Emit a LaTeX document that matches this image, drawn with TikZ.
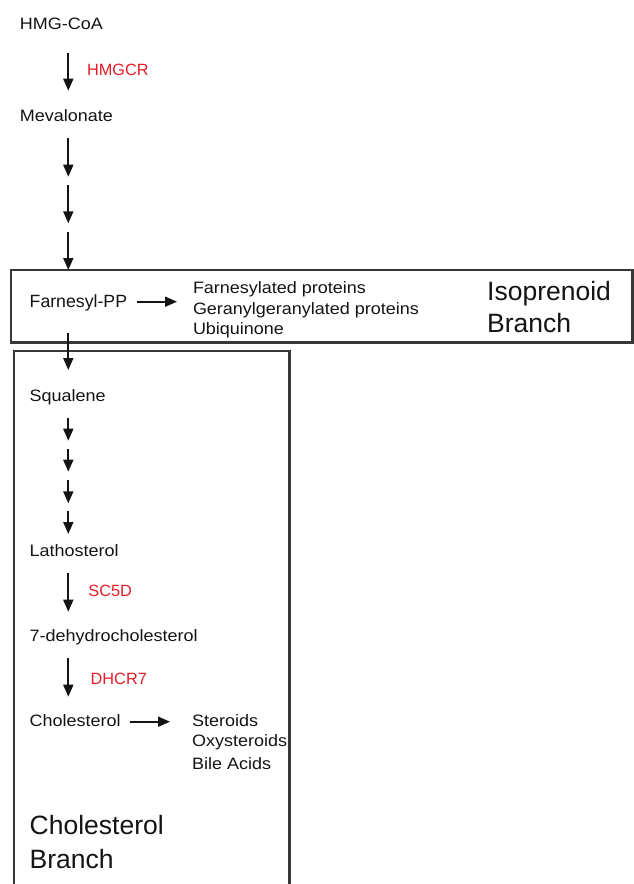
\documentclass[tikz,border=0pt]{standalone}
\usepackage{fontspec}
\setmainfont{Liberation Sans}
\newfontfamily\widefont[FakeStretch=1.09]{Liberation Sans}
\usetikzlibrary{arrows.meta}
\definecolor{enz}{RGB}{228,30,38}
\definecolor{txt}{RGB}{20,20,20}
\definecolor{boxc}{RGB}{55,55,55}
\tikzset{
  lbl/.style={anchor=base west, inner sep=0pt, text=txt, font=\widefont\fontsize{16.5}{20}\selectfont},
  farnlbl/.style={anchor=base west, inner sep=0pt, text=txt, font=\fontsize{17.7}{21}\selectfont},
  enzlbl/.style={anchor=base west, inner sep=0pt, text=enz, font=\fontsize{16.3}{20}\selectfont},
  biglbl/.style={anchor=base west, inner sep=0pt, text=txt, font=\fontsize{26.5}{32}\selectfont},
  arr/.style={-{Triangle[width=10pt,length=12pt]}, line width=1.8pt, draw=txt},
  branchbox/.style={draw=boxc, line width=2.3pt},
}
\begin{document}
\begin{tikzpicture}[x=1pt, y=-1pt]
\useasboundingbox[fill=white] (0,0) rectangle (634,884);

% branch boxes
\draw[branchbox] (11,270) rectangle (632.5,342.5);
\draw[branchbox] (14,892) -- (14,351) -- (289.5,351) -- (289.5,892);

% labels
\node[lbl] (hmg) at (19.7,29.3) {HMG-CoA};
\node[enzlbl] (hmgcr) at (86.8,75) {HMGCR};
\node[lbl] (meva) at (19.7,121.7) {Mevalonate};
\node[farnlbl] (farn) at (29.5,307.7) {Farnesyl-PP};
\node[lbl] (prod1) at (192.8,293) {Farnesylated proteins};
\node[lbl] (prod2) at (192.8,314.7) {Geranylgeranylated proteins};
\node[lbl] (prod3) at (192.8,334.7) {Ubiquinone};
\node[biglbl] (iso1) at (487,300) {Isoprenoid};
\node[biglbl] (iso2) at (487,332.7) {Branch};
\node[lbl] (squa) at (29.5,401.7) {Squalene};
\node[lbl] (latho) at (29.5,556) {Lathosterol};
\node[enzlbl] (sc5d) at (88.2,596.7) {SC5D};
\node[lbl] (dhc) at (29.5,641.7) {7-dehydrocholesterol};
\node[enzlbl] (dhcr7) at (90.5,684.3) {DHCR7};
\node[lbl] (chol) at (29.5,726.7) {Cholesterol};
\node[lbl] (ster) at (192,726) {Steroids};
\node[lbl] (oxy) at (192,746.7) {Oxysteroids};
\node[lbl] (bile) at (192,769) {Bile Acids};
\node[biglbl] (cb1) at (29.5,834) {Cholesterol};
\node[biglbl] (cb2) at (29.5,868.3) {Branch};

% arrow end points
\coordinate (a1s) at (68.3,53.3);  \coordinate (a1e) at (68.3,90.7);
\coordinate (a2s) at (68.3,138.3); \coordinate (a2e) at (68.3,176.7);
\coordinate (a3s) at (68.3,185);   \coordinate (a3e) at (68.3,223.3);
\coordinate (a4s) at (68.3,231.7); \coordinate (a4e) at (68.3,270);
\coordinate (a5s) at (68.3,333);   \coordinate (a5e) at (68.3,370);
\coordinate (s1s) at (68.3,417.7); \coordinate (s1e) at (68.3,440.7);
\coordinate (s2s) at (68.3,449);   \coordinate (s2e) at (68.3,471.7);
\coordinate (s3s) at (68.3,480);   \coordinate (s3e) at (68.3,503.3);
\coordinate (s4s) at (68.3,510.7); \coordinate (s4e) at (68.3,534);
\coordinate (a6s) at (68.3,573.3); \coordinate (a6e) at (68.3,611.7);
\coordinate (a7s) at (68.3,658.3); \coordinate (a7e) at (68.3,696.7);
\coordinate (h1s) at (137,301.7);  \coordinate (h1e) at (177,301.7);
\coordinate (h2s) at (130,721.7);  \coordinate (h2e) at (170,721.7);

\draw[arr] (a1s) -- (a1e);
\draw[arr] (a2s) -- (a2e);
\draw[arr] (a3s) -- (a3e);
\draw[arr] (a4s) -- (a4e);
\draw[arr] (a5s) -- (a5e);
\draw[arr] (s1s) -- (s1e);
\draw[arr] (s2s) -- (s2e);
\draw[arr] (s3s) -- (s3e);
\draw[arr] (s4s) -- (s4e);
\draw[arr] (a6s) -- (a6e);
\draw[arr] (a7s) -- (a7e);
\draw[arr] (h1s) -- (h1e);
\draw[arr] (h2s) -- (h2e);
\end{tikzpicture}
\end{document}
